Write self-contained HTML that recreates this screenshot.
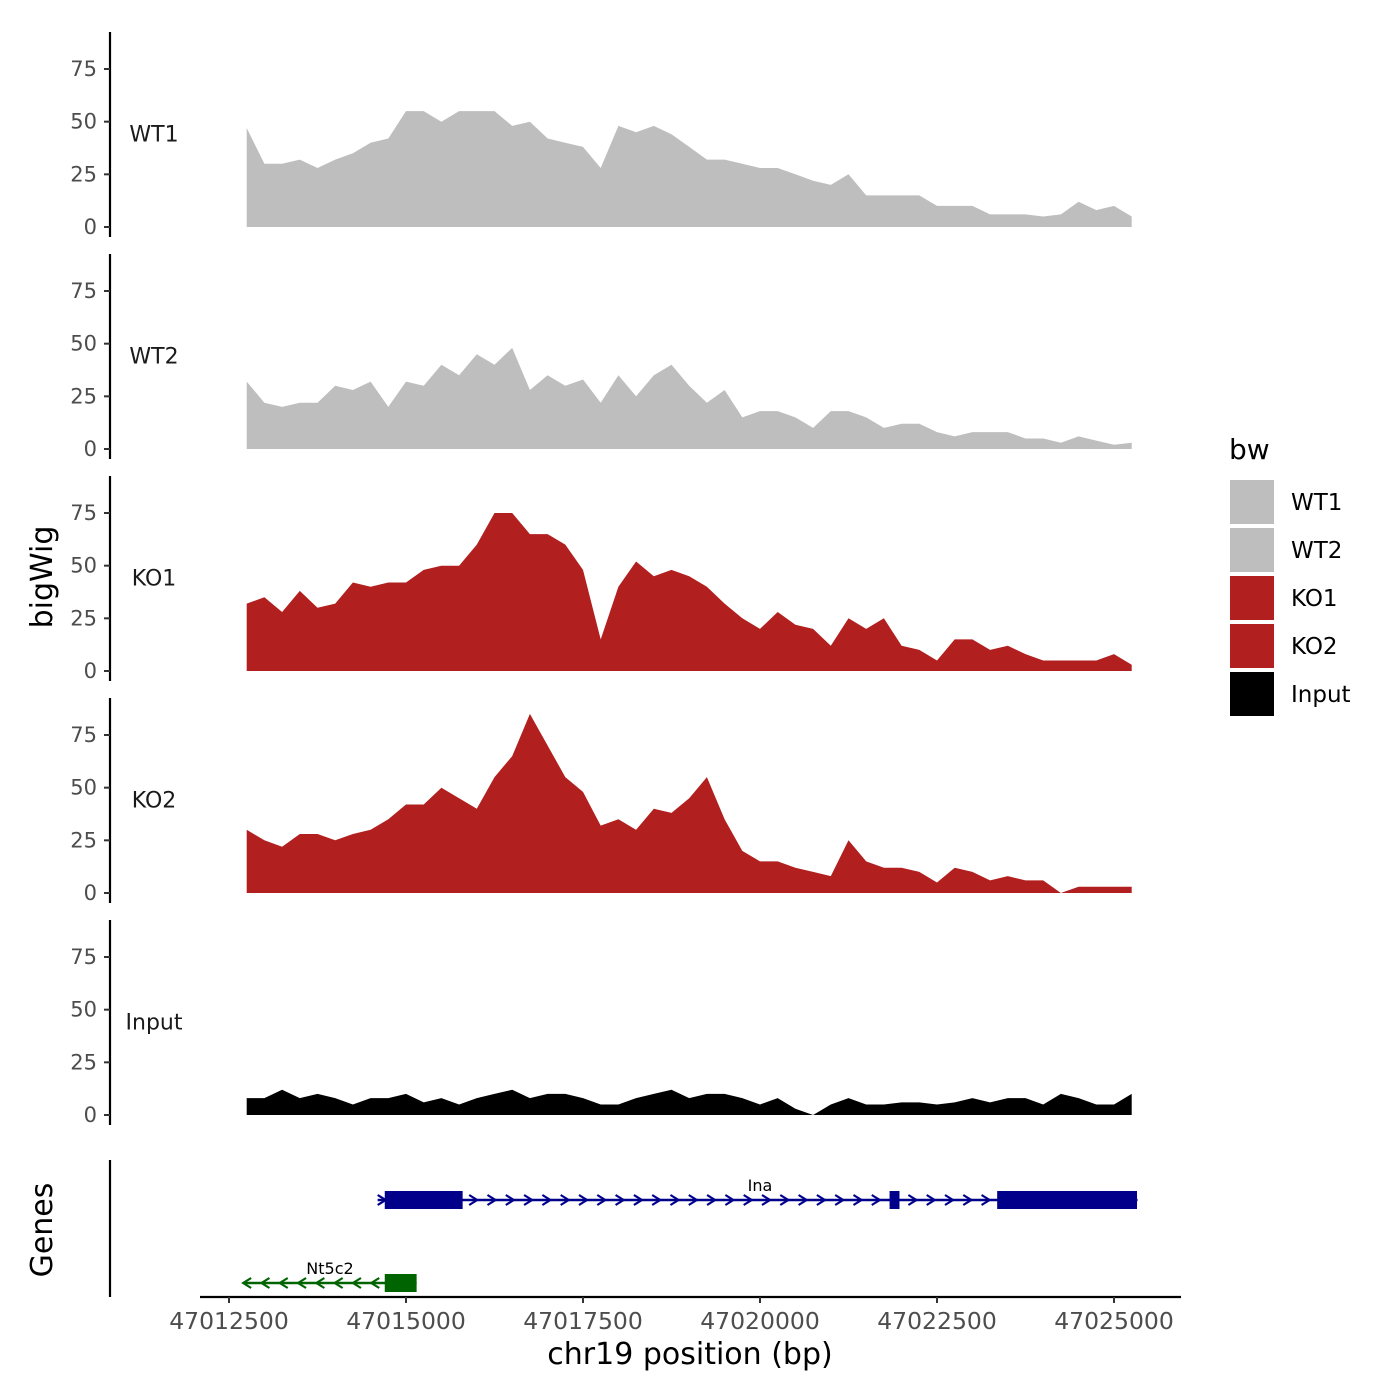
<!DOCTYPE html>
<html><head><meta charset="utf-8"><style>
body{margin:0;background:#fff}
svg{display:block;font-family:"DejaVu Sans","Liberation Sans",sans-serif}
</style></head><body>
<svg id="c" width="1400" height="1400"></svg>
<script>
const tracks=["WT1","WT2","KO1","KO2","Input"];
const colors=["#bebebe","#bebebe","#b21f1f","#b21f1f","#000000"];
const positions=[];for(let i=0;i<51;i++)positions.push(47012750+i*250);
const wt1=[47,30,30,32,28,32,35,40,42,55,55,50,55,55,55,48,50,42,40,38,28,48,45,48,44,38,32,32,30,28,28,25,22,20,25,15,15,15,15,10,10,10,6,6,6,5,6,12,8,10,5];
const wt2=[32,22,20,22,22,30,28,32,20,32,30,40,35,45,40,48,28,35,30,33,22,35,25,35,40,30,22,28,15,18,18,15,10,18,18,15,10,12,12,8,6,8,8,8,5,5,3,6,4,2,3];
const ko1=[32,35,28,38,30,32,42,40,42,42,48,50,50,60,75,75,65,65,60,48,15,40,52,45,48,45,40,32,25,20,28,22,20,12,25,20,25,12,10,5,15,15,10,12,8,5,5,5,5,8,3];
const ko2=[30,25,22,28,28,25,28,30,35,42,42,50,45,40,55,65,85,70,55,48,32,35,30,40,38,45,55,35,20,15,15,12,10,8,25,15,12,12,10,5,12,10,6,8,6,6,0,3,3,3,3];
const input=[8,8,12,8,10,8,5,8,8,10,6,8,5,8,10,12,8,10,10,8,5,5,8,10,12,8,10,10,8,5,8,3,0,5,8,5,5,6,6,5,6,8,6,8,8,5,10,8,5,5,10];
const series=[wt1,wt2,ko1,ko2,input];
const yTicks=[0,25,50,75];
const xTicks=[47012500,47015000,47017500,47020000,47022500,47025000];
const genes=[{name:"Ina",start:47014600,end:47025330,strand:1,row:0,exons:[[47014700,47015800],[47021830,47021970],[47023350,47025325]]},
{name:"Nt5c2",start:47012700,end:47015150,strand:-1,row:1,exons:[[47014700,47015150]]}];

const NS="http://www.w3.org/2000/svg";const svg=document.getElementById('c');
function el(t,a,p){const e=document.createElementNS(NS,t);for(const k in a)e.setAttribute(k,a[k]);(p||svg).appendChild(e);return e;}
const xs=v=>229+(v-47012500)*885/12500;
const ppu=158/75;
tracks.forEach((t,k)=>{
  const base=227+k*222;const ys=v=>base-v*ppu;
  const g=el('g',{});
  const ax=el('line',{x1:110,x2:110,y1:base-195,y2:base+10,stroke:'#000','stroke-width':2.2},g);
  
  yTicks.forEach(v=>{el('line',{x1:104,x2:110,y1:ys(v),y2:ys(v),stroke:'#333','stroke-width':2},g);
    const tx=el('text',{x:97,y:ys(v)+7,'text-anchor':'end','font-size':21,fill:'#4d4d4d'},g);tx.textContent=v;
    });
  const lb=el('text',{x:154,y:ys(44)+7,'text-anchor':'middle','font-size':22,fill:'#1a1a1a'},g);lb.textContent=t;
  
  let d='M'+xs(positions[0])+','+base;
  series[k].forEach((v,i)=>{d+='L'+xs(positions[i]).toFixed(1)+','+ys(v).toFixed(1);});
  d+='L'+xs(positions[positions.length-1])+','+base+'Z';
  const a=el('path',{d:d,fill:colors[k]},g);
});
el('line',{x1:110,x2:110,y1:1160,y2:1297,stroke:'#000','stroke-width':2.2});
const xa=el('line',{x1:200,x2:1181,y1:1297,y2:1297,stroke:'#000','stroke-width':2.2});

xTicks.forEach(v=>{el('line',{x1:xs(v),x2:xs(v),y1:1297,y2:1303,stroke:'#333','stroke-width':2});
  const t=el('text',{x:xs(v),y:1329,'text-anchor':'middle','font-size':23.5,fill:'#4d4d4d'});t.textContent=v;
  });
genes.forEach(gn=>{
  const y=gn.row?1283:1200;const col=gn.row?'#006400':'#00008b';
  const g=el('g',{});
  el('line',{x1:xs(gn.start),x2:xs(gn.end),y1:y,y2:y,stroke:col,'stroke-width':2.5},g);
  for(let x=xs(gn.start)+4;x<xs(gn.end);x+=18.3){
    const s=gn.strand*4;el('polyline',{points:(x-s)+','+(y-5)+' '+(x+s)+','+y+' '+(x-s)+','+(y+5),fill:'none',stroke:col,'stroke-width':2.2},g);}
  gn.exons.forEach(e=>el('rect',{x:xs(e[0]),y:y-9,width:xs(e[1])-xs(e[0]),height:18,fill:col},g));
  const t=el('text',{x:gn.row?330:760,y:y-9,'text-anchor':'middle','font-size':16,fill:'#000'},g);t.textContent=gn.name;
});
function txt(s,a,n){const t=el('text',a);t.textContent=s;return t;}
txt('bigWig',{x:52,y:577,'text-anchor':'middle','font-size':30,transform:'rotate(-90 52 577)'},'y-axis-title');
txt('Genes',{x:52,y:1230,'text-anchor':'middle','font-size':30,transform:'rotate(-90 52 1230)'},'genes-axis-title');
txt('chr19 position (bp)',{x:690,y:1364,'text-anchor':'middle','font-size':30},'x-axis-title');
txt('bw',{x:1229,y:459,'font-size':28},'legend-title');
tracks.forEach((t,k)=>{const y=480+k*48;
  const r=el('rect',{x:1230,y:y,width:44,height:44,fill:colors[k]});
  txt(t,{x:1291,y:y+30,'font-size':23},'legend-entry');});
</script>
</body></html>
